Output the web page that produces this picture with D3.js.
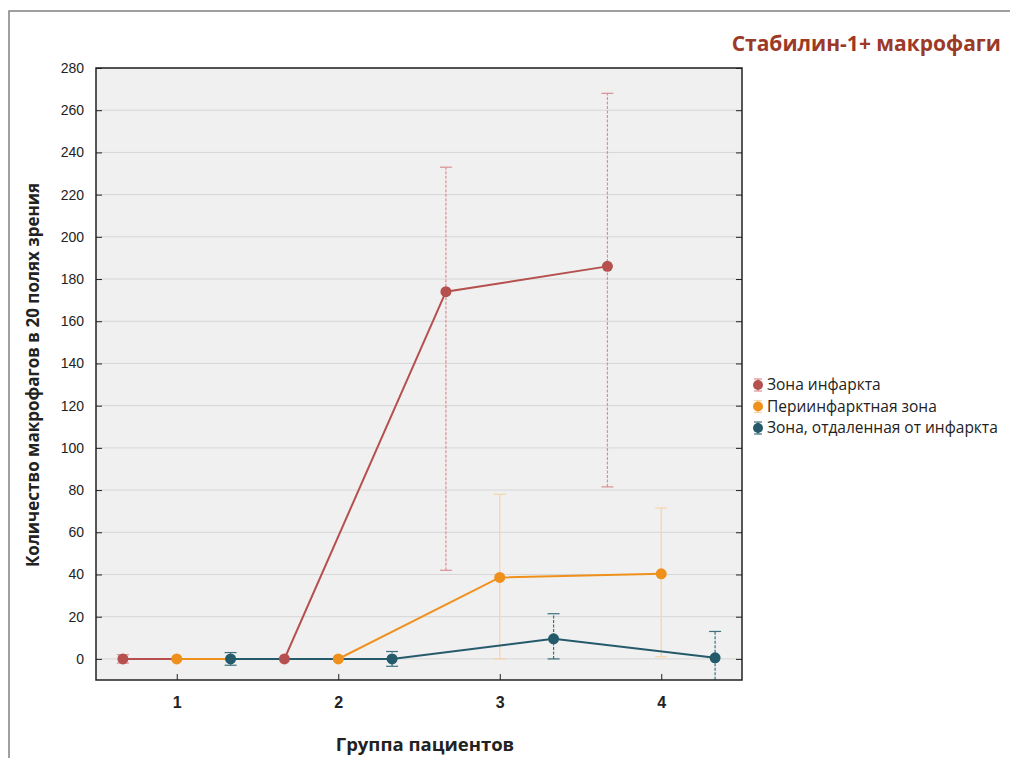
<!DOCTYPE html>
<html><head><meta charset="utf-8">
<script src="https://cdn.jsdelivr.net/npm/d3@7"></script>
<style>body{margin:0;background:#fff;} svg{display:block;font-family:"Open Sans","Noto Sans",sans-serif;}</style>
</head><body>
<svg id="c" width="1010" height="758"></svg>
<script>
const groups = [1, 2, 3, 4];
const seriesNames = ["Зона инфаркта", "Периинфарктная зона", "Зона, отдаленная от инфаркта"];
const infarctMean = [0, 0, 174, 186];
const infarctLow  = [-2, 0, 42, 81.5];
const infarctHigh = [2, 0, 233, 268];
const periMean = [0, 0, 38.6, 40.3];
const periLow  = [0, 0, 0, 1];
const periHigh = [0, 0, 78, 71.5];
const remoteMean = [0, 0, 9.5, 0.5];
const remoteLow  = [-3, -3.5, 0, -12];
const remoteHigh = [3, 3.5, 21.4, 13];
const yTicks = d3.range(0, 281, 20);
const title = "Стабилин-1+ макрофаги";
const yLabel = "Количество макрофагов в 20 полях зрения";
const xLabel = "Группа пациентов";

const series = [
  {name: seriesNames[0], mean: infarctMean, low: infarctLow, high: infarctHigh, off: -1/3, color: "#b5504f", err: "#dc8f95", dash: "3,1.5"},
  {name: seriesNames[1], mean: periMean, low: periLow, high: periHigh, off: 0, color: "#f0901c", err: "#f8d3a8", dash: null},
  {name: seriesNames[2], mean: remoteMean, low: remoteLow, high: remoteHigh, off: 1/3, color: "#245a6a", err: "#3d6f7e", dash: "3,1.5"}
];

const svg = d3.select("#c");
const L = 96, R = 742, T = 68, B = 680;
const x = d3.scaleLinear().domain([0.5, 4.5]).range([L, R]);
const y = d3.scaleLinear().domain([-10, 280]).range([B, T]);

// outer border
svg.append("rect").attr("x", 9).attr("y", 11).attr("width", 1010).attr("height", 760)
  .attr("fill", "none").attr("stroke", "#808080").attr("stroke-width", 1.5);

// plot bg
svg.append("rect").attr("x", L).attr("y", T).attr("width", R - L).attr("height", B - T).attr("fill", "#f0f0f0");

// grid
svg.append("g").selectAll("line").data(yTicks).join("line")
  .attr("x1", L).attr("x2", R).attr("y1", d => y(d)).attr("y2", d => y(d))
  .attr("stroke", "#d6d6d6").attr("stroke-width", 1);

svg.append("clipPath").attr("id", "pc").append("rect")
  .attr("x", L).attr("y", T).attr("width", R - L).attr("height", B - T);
const plot = svg.append("g").attr("clip-path", "url(#pc)");

// error bars
series.forEach(s => {
  const g = plot.append("g");
  groups.forEach((gr, i) => {
    if (s.high[i] === s.low[i]) return;
    const cx = x(gr + s.off);
    g.append("line").attr("x1", cx).attr("x2", cx).attr("y1", y(s.low[i])).attr("y2", y(s.high[i]))
      .attr("stroke", s.err).attr("stroke-width", 1.2).attr("stroke-dasharray", s.dash);
    [s.low[i], s.high[i]].forEach(v => {
      g.append("line").attr("x1", cx - 6).attr("x2", cx + 6).attr("y1", y(v)).attr("y2", y(v))
        .attr("stroke", s.err).attr("stroke-width", 1.2);
    });
  });
});

// lines + points
series.forEach(s => {
  const line = d3.line().x((d, i) => x(groups[i] + s.off)).y(d => y(d));
  plot.append("path").datum(s.mean).attr("d", line).attr("fill", "none")
    .attr("stroke", s.color).attr("stroke-width", 2);
});
series.forEach(s => {
  plot.append("g").selectAll("circle").data(s.mean).join("circle")
    .attr("cx", (d, i) => x(groups[i] + s.off)).attr("cy", d => y(d)).attr("r", 5.5)
    .attr("fill", s.color);
});

// frame
svg.append("rect").attr("x", L).attr("y", T).attr("width", R - L).attr("height", B - T)
  .attr("fill", "none").attr("stroke", "#222").attr("stroke-width", 1.5);

// axes
const yAxisL = d3.axisLeft(y).tickValues(yTicks).tickSizeInner(-6).tickSizeOuter(0).tickPadding(12);
const gy = svg.append("g").attr("transform", `translate(${L},0)`).call(yAxisL);
gy.select(".domain").remove();
gy.selectAll("text").attr("font-size", 14).attr("fill", "#222");
gy.selectAll("line").attr("stroke", "#222");
const yAxisR = d3.axisRight(y).tickValues(yTicks).tickSizeInner(-6).tickSizeOuter(0).tickFormat("");
const gyr = svg.append("g").attr("transform", `translate(${R},0)`).call(yAxisR);
gyr.select(".domain").remove();
gyr.selectAll("line").attr("stroke", "#222");

const xAxis = d3.axisBottom(x).tickValues(groups).tickSizeInner(-6).tickSizeOuter(0).tickPadding(17).tickFormat(d3.format("d"));
const gx = svg.append("g").attr("transform", `translate(0,${B})`).call(xAxis);
gx.select(".domain").remove();
gx.selectAll("text").attr("font-size", 16).attr("font-weight", "bold").attr("fill", "#222");
gx.selectAll("line").attr("stroke", "#222");

// labels
svg.append("text").attr("x", 425).attr("y", 751).attr("text-anchor", "middle")
  .attr("font-size", 18.5).attr("font-weight", "bold").attr("fill", "#222").text(xLabel);
svg.append("text").attr("transform", "translate(39,375) rotate(-90)").attr("text-anchor", "middle")
  .attr("font-size", 17).attr("font-weight", "bold").attr("fill", "#222").text(yLabel);
svg.append("text").attr("x", 1001).attr("y", 51).attr("text-anchor", "end")
  .attr("font-size", 21).attr("font-weight", "bold").attr("fill", "#9c3a27").text(title);

// legend
const lg = svg.append("g").attr("transform", "translate(758,385)");
series.forEach((s, i) => {
  const g = lg.append("g").attr("transform", `translate(0,${i * 21.5})`);
  g.append("line").attr("x1", 0).attr("x2", 0).attr("y1", -6).attr("y2", 6).attr("stroke", s.err).attr("stroke-width", 1.2);
  [-6, 6].forEach(v => g.append("line").attr("x1", -4).attr("x2", 4).attr("y1", v).attr("y2", v).attr("stroke", s.err).attr("stroke-width", 1.2));
  g.append("circle").attr("r", 5).attr("fill", s.color);
  g.append("text").attr("x", 9).attr("y", 5).attr("font-size", 15.5).attr("fill", "#222").text(s.name);
});
</script>
</body></html>
